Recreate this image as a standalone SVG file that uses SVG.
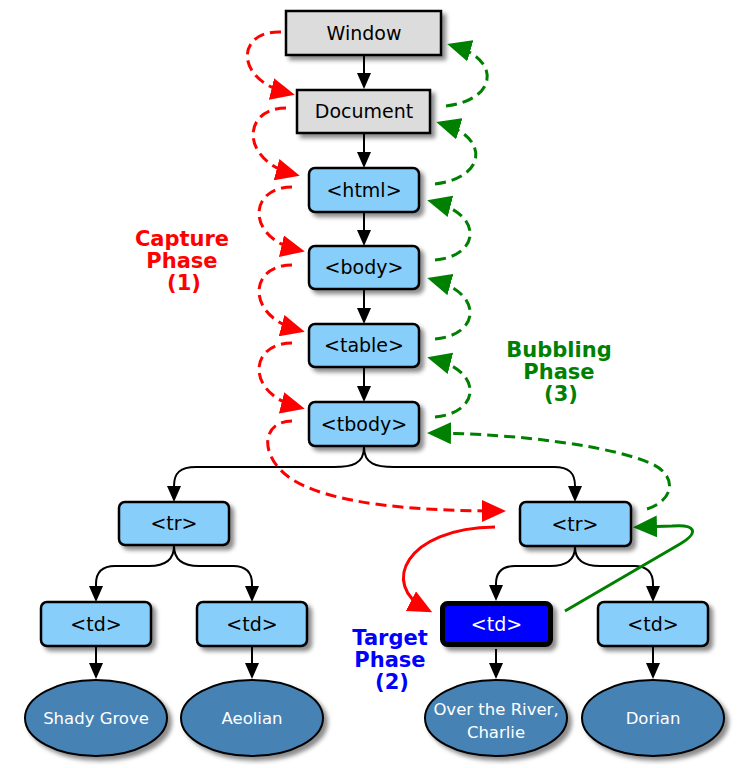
<svg xmlns="http://www.w3.org/2000/svg" width="750" height="768" viewBox="0 0 750 768">
  <defs>
    <filter id="shadow" x="-20%" y="-20%" width="150%" height="160%">
      <feDropShadow dx="4" dy="4" stdDeviation="2" flood-color="#000" flood-opacity="0.45"/>
    </filter>
    <marker id="arrow-black" markerUnits="userSpaceOnUse" markerWidth="16" markerHeight="14" refX="13" refY="7" orient="auto">
      <path d="M0,0 L16,7 L0,14 z" fill="#000"/>
    </marker>
    <marker id="arrow-red" markerUnits="userSpaceOnUse" markerWidth="24" markerHeight="22" refX="17" refY="11" orient="auto">
      <path d="M0,0 L24,11 L0,22 z" fill="#ff0000"/>
    </marker>
    <marker id="arrow-green" markerUnits="userSpaceOnUse" markerWidth="24" markerHeight="22" refX="17" refY="11" orient="auto">
      <path d="M0,0 L24,11 L0,22 z" fill="#008000"/>
    </marker>
  </defs>
  <style>
    .box { stroke: #000; stroke-width: 2.5; filter: url(#shadow); }
    .grey { fill: #dcdcdc; }
    .blue { fill: #87cefa; }
    .target { fill: #0000ff; stroke-width: 5; }
    .leaf { fill: #4682b4; stroke: #000; stroke-width: 2; filter: url(#shadow); }
    .label { font-family: "DejaVu Sans", Verdana, sans-serif; font-size: 19px; fill: #000; text-anchor: middle; }
    .label-w { fill: #fff; }
    .leaf-label { font-family: "DejaVu Sans", Verdana, sans-serif; font-size: 16.5px; fill: #fff; text-anchor: middle; }
    .phase { font-family: "DejaVu Sans", Verdana, sans-serif; font-size: 21px; font-weight: bold; text-anchor: middle; }
    .tree { fill: none; stroke: #000; stroke-width: 2; marker-end: url(#arrow-black); }
    .capture { fill: none; stroke: #ff0000; stroke-width: 3; stroke-dasharray: 11 6; marker-end: url(#arrow-red); }
    .capture-solid { fill: none; stroke: #ff0000; stroke-width: 3; marker-end: url(#arrow-red); }
    .bubble { fill: none; stroke: #008000; stroke-width: 3; stroke-dasharray: 11 6; marker-end: url(#arrow-green); }
    .bubble-solid { fill: none; stroke: #008000; stroke-width: 3; marker-end: url(#arrow-green); }
  </style>

  <rect width="750" height="768" fill="#fff"/>

  <!-- tree edges and event-flow arrows -->
  <g id="connectors">
    <path class="tree" d="M364,56 L364,86"/>
    <path class="tree" d="M364,134 L364,165"/>
    <path class="tree" d="M364,212 L364,243"/>
    <path class="tree" d="M364,290 L364,321"/>
    <path class="tree" d="M364,368 L364,399"/>
    <path class="tree" d="M364,447 C364,464 352,467 334,467 L196,467 C180,467 174,473 174,486 L174,499"/>
    <path class="tree" d="M364,447 C364,464 376,467 394,467 L554,467 C569,467 575,473 575,486 L575,499"/>
    <path class="tree" d="M174,546 C174,561 164,566 149,566 L115,566 C102,566 96,572 96,584 L96,599"/>
    <path class="tree" d="M174,546 C174,561 184,566 199,566 L233,566 C246,566 252,572 252,584 L252,599"/>
    <path class="tree" d="M575,547 C575,561 565,566 550,566 L515,566 C502,566 496,572 496,584 L496,598"/>
    <path class="tree" d="M575,547 C575,561 585,566 600,566 L634,566 C647,566 653,572 653,584 L653,599"/>
    <path class="tree" d="M96,647 L96,676"/>
    <path class="tree" d="M252,647 L252,676"/>
    <path class="tree" d="M496,649 L496,676"/>
    <path class="tree" d="M653,647 L653,676"/>

    <!-- capture phase -->
    <path class="capture" d="M281,32 C236,30 234,80 288,93"/>
    <path class="capture" d="M286,108 C242,108 240,160 293,174"/>
    <path class="capture" d="M292,187 C248,187 246,238 298,250"/>
    <path class="capture" d="M292,265 C248,265 246,316 298,330"/>
    <path class="capture" d="M292,343 C248,343 246,394 298,407"/>
    <path class="capture" d="M292,421 C262,421 258,455 290,478 C330,505 420,511 499,511"/>
    <path class="capture-solid" d="M495,527 C405,528 380,585 426,609"/>

    <!-- bubbling phase -->
    <path class="bubble" d="M446,106 C497,100 502,60 454,46"/>
    <path class="bubble" d="M435,184 C486,178 490,138 443,124"/>
    <path class="bubble" d="M435,260 C480,256 484,215 434,202"/>
    <path class="bubble" d="M435,339 C480,335 484,294 434,280"/>
    <path class="bubble" d="M435,417 C480,413 484,372 434,359"/>
    <path class="bubble" d="M647,509 C675,500 678,475 650,463 C610,446 520,434 434,433"/>
    <path class="bubble-solid" d="M565,611 L680,544 C700,532 695,524 672,526 L640,527"/>
  </g>

  <g id="window">
    <rect class="box grey" x="286" y="11" width="155" height="44"/>
    <text class="label" x="364" y="40">Window</text>
  </g>
  <g id="document">
    <rect class="box grey" x="297" y="90" width="133" height="43"/>
    <text class="label" x="364" y="118">Document</text>
  </g>
  <g id="html">
    <rect class="box blue" x="309" y="168" width="110" height="44" rx="6"/>
    <text class="label" x="364" y="197">&lt;html&gt;</text>
  </g>
  <g id="body">
    <rect class="box blue" x="309" y="246" width="110" height="43" rx="6"/>
    <text class="label" x="364" y="274">&lt;body&gt;</text>
  </g>
  <g id="table">
    <rect class="box blue" x="309" y="324" width="110" height="43" rx="6"/>
    <text class="label" x="364" y="352">&lt;table&gt;</text>
  </g>
  <g id="tbody">
    <rect class="box blue" x="309" y="402" width="110" height="44" rx="6"/>
    <text class="label" x="364" y="431">&lt;tbody&gt;</text>
  </g>
  <g id="tr-1">
    <rect class="box blue" x="119" y="502" width="110" height="43" rx="6"/>
    <text class="label" x="174" y="530">&lt;tr&gt;</text>
  </g>
  <g id="tr-2">
    <rect class="box blue" x="520" y="502" width="111" height="44" rx="6"/>
    <text class="label" x="575" y="531">&lt;tr&gt;</text>
  </g>
  <g id="td-1">
    <rect class="box blue" x="41" y="602" width="110" height="44" rx="6"/>
    <text class="label" x="96" y="631">&lt;td&gt;</text>
  </g>
  <g id="td-2">
    <rect class="box blue" x="197" y="602" width="110" height="44" rx="6"/>
    <text class="label" x="252" y="631">&lt;td&gt;</text>
  </g>
  <g id="td-target">
    <rect class="box target" x="442.5" y="603.5" width="108" height="41" rx="5"/>
    <text class="label label-w" x="496.5" y="631">&lt;td&gt;</text>
  </g>
  <g id="td-4">
    <rect class="box blue" x="598" y="602" width="110" height="44" rx="6"/>
    <text class="label" x="653" y="631">&lt;td&gt;</text>
  </g>

  <g id="leaf-shady-grove">
    <ellipse class="leaf" cx="96" cy="718" rx="71" ry="38"/>
    <text class="leaf-label" x="96" y="724">Shady Grove</text>
  </g>
  <g id="leaf-aeolian">
    <ellipse class="leaf" cx="252" cy="718" rx="71" ry="38"/>
    <text class="leaf-label" x="252" y="724">Aeolian</text>
  </g>
  <g id="leaf-over-the-river">
    <ellipse class="leaf" cx="496" cy="718" rx="71" ry="38"/>
    <text class="leaf-label" x="496" y="715">Over the River,</text>
    <text class="leaf-label" x="496" y="738">Charlie</text>
  </g>
  <g id="leaf-dorian">
    <ellipse class="leaf" cx="653" cy="718" rx="71" ry="38"/>
    <text class="leaf-label" x="653" y="724">Dorian</text>
  </g>

  <g id="capture-label" class="phase" fill="#ff0000">
    <text x="182" y="246">Capture</text>
    <text x="182" y="268">Phase</text>
    <text x="184" y="290">(1)</text>
  </g>
  <g id="target-label" class="phase" fill="#0000ff">
    <text x="390" y="645">Target</text>
    <text x="390" y="667">Phase</text>
    <text x="392" y="689">(2)</text>
  </g>
  <g id="bubbling-label" class="phase" fill="#008000">
    <text x="559" y="357">Bubbling</text>
    <text x="559" y="379">Phase</text>
    <text x="561" y="401">(3)</text>
  </g>
</svg>
